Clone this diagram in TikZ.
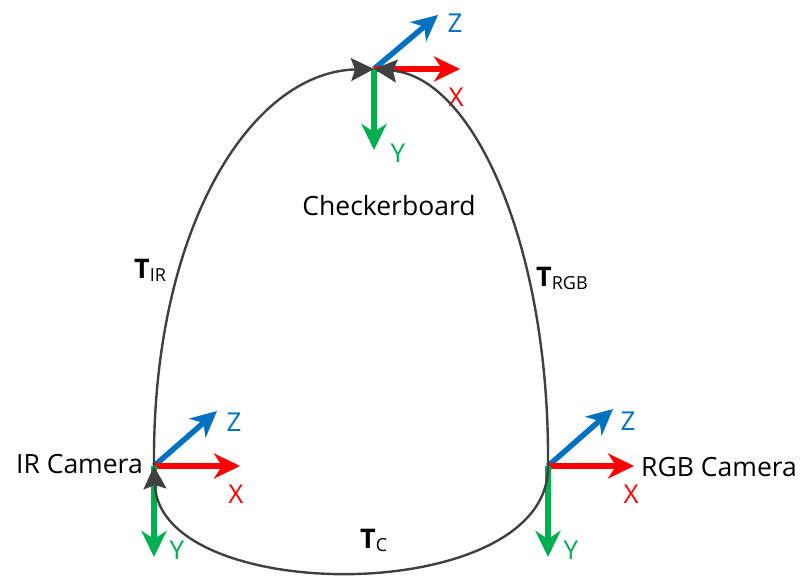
\documentclass[tikz,border=0pt]{standalone}
\usepackage{fontspec}
\setmainfont{Open Sans}
\usetikzlibrary{arrows.meta}
\definecolor{axblue}{HTML}{0070C0}
\definecolor{axred}{HTML}{FF0000}
\definecolor{axgreen}{HTML}{00B050}
\definecolor{linkgray}{HTML}{404040}
\begin{document}
\begin{tikzpicture}[x=1pt,y=-1pt,
  axis/.style={line width=5.5pt,-{Stealth[length=26pt,width=25pt,inset=8pt]}},
  link/.style={line width=2.4pt,draw=linkgray,-{Stealth[length=23pt,width=23pt,inset=4pt,fill=linkgray]}},
  lbl/.style={inner sep=0pt,font=\fontsize{26.5}{30}\selectfont},
  axl/.style={inner sep=0pt,font=\fontsize{26}{30}\selectfont},
  tl/.style={inner sep=0pt,font=\fontsize{27}{30}\selectfont}]
\useasboundingbox (0,0) rectangle (804,576);
% origins
\coordinate (cb) at (374,69);
\coordinate (ir) at (154,466);
\coordinate (rgb) at (548,466);
% axis ends
\coordinate (cbx) at (460,69);
\coordinate (cbz) at (438,15);
\coordinate (cby) at (374,150);
\coordinate (irx) at (240,466);
\coordinate (irz) at (217,411);
\coordinate (iry) at (154,557);
\coordinate (rgbx) at (634,466);
\coordinate (rgbz) at (613,409);
\coordinate (rgby) at (548,557);
% axes
\draw[axis,axblue] (cb) -- (cbz);
\draw[axis,axred] (cb) -- (cbx);
\draw[axis,axgreen] (cb) -- (cby);
\draw[axis,axblue] (ir) -- (irz);
\draw[axis,axred] (ir) -- (irx);
\draw[axis,axgreen] (ir) -- (iry);
\draw[axis,axblue] (rgb) -- (rgbz);
\draw[axis,axred] (rgb) -- (rgbx);
\draw[axis,axgreen] (rgb) -- (rgby);
% axis labels
\node[axl,text=axblue] (cbZ) at (455,23) {Z};
\node[axl,text=axred] (cbX) at (456,97) {X};
\node[axl,text=axgreen] (cbY) at (398,153) {Y};
\node[axl,text=axblue] (irZ) at (234,422) {Z};
\node[axl,text=axred] (irX) at (236,494) {X};
\node[axl,text=axgreen] (irY) at (177,550) {Y};
\node[axl,text=axblue] (rgbZ) at (628,421) {Z};
\node[axl,text=axred] (rgbX) at (631,494) {X};
\node[axl,text=axgreen] (rgbY) at (571,550) {Y};
% links
\draw[link] (ir) .. controls (152,230) and (250,72) .. (cb);
\draw[link] (rgb) .. controls (550,250) and (475,78) .. (cb);
\draw[link] (rgb) .. controls (550,607) and (160,607) .. (ir);
% text labels
\node[lbl] (cbtxt) at (389,206) {Checkerboard};
\node[lbl,anchor=east] (irtxt) at (143,464) {IR Camera};
\node[lbl,anchor=west] (rgbtxt) at (641,467) {RGB Camera};
\node[tl,anchor=west] (tir) at (134,270) {\textbf{T}\raisebox{-3pt}{\fontsize{18}{20}\selectfont IR}};
\node[tl,anchor=west] (trgb) at (536,278) {\textbf{T}\raisebox{-3pt}{\fontsize{18}{20}\selectfont RGB}};
\node[tl,anchor=west] (tc) at (360,540) {\textbf{T}\raisebox{-3pt}{\fontsize{18}{20}\selectfont C}};
\end{tikzpicture}
\end{document}
